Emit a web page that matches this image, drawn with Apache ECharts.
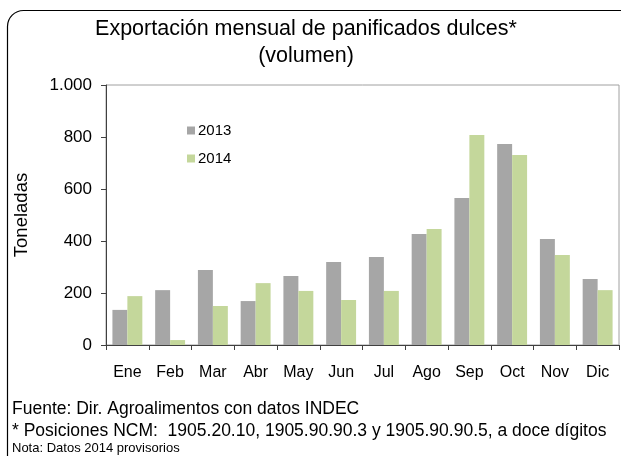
<!DOCTYPE html>
<html>
<head>
<meta charset="utf-8">
<script src="https://cdn.jsdelivr.net/npm/echarts@6/dist/echarts.min.js"></script>
<style>
  html, body { margin: 0; padding: 0; background: #fff; }
  #echarts { width: 621px; height: 456px; }
</style>
</head>
<body>
<div id="echarts"></div>
<script>
var meses = ['Ene', 'Feb', 'Mar', 'Abr', 'May', 'Jun', 'Jul', 'Ago', 'Sep', 'Oct', 'Nov', 'Dic'];
var datos2013 = [135, 211, 288, 169, 265, 319, 338, 427, 565, 773, 408, 254];
var datos2014 = [188, 19, 150, 238, 208, 173, 208, 446, 808, 731, 346, 211];
var notas = [
  'Fuente: Dir. Agroalimentos con datos INDEC',
  '* Posiciones NCM:  1905.20.10, 1905.90.90.3 y 1905.90.90.5, a doce dígitos',
  'Nota: Datos 2014 provisorios'
];

var myChart = echarts.init(document.getElementById('echarts'));
var fuente = 'Liberation Sans, Arial, sans-serif';

var option = {
  backgroundColor: '#fff',
  textStyle: { fontFamily: fuente },
  animation: false,
  title: {
    text: 'Exportación mensual de panificados dulces*\n(volumen)',
    left: 301,
    top: 11,
    textAlign: 'center',
    textStyle: { fontSize: 21.5, fontWeight: 'normal', color: '#000', lineHeight: 27, fontFamily: fuente }
  },
  legend: {
    orient: 'vertical',
    left: 182,
    top: 118,
    itemWidth: 8,
    itemHeight: 8,
    itemGap: 13,
    icon: 'rect',
    textStyle: { fontSize: 15, color: '#000', padding: [0, 0, 0, -2] },
    data: ['2013', '2014']
  },
  grid: {
    left: 106,
    right: 2,
    top: 85,
    bottom: 111,
    show: true,
    borderColor: '#a0a0a0',
    borderWidth: 1
  },
  xAxis: {
    type: 'category',
    data: meses,
    axisLine: { lineStyle: { color: '#404040', width: 1 } },
    axisTick: { show: true, length: 5, lineStyle: { color: '#404040' } },
    axisLabel: { fontSize: 16, color: '#000', margin: 20 }
  },
  yAxis: {
    type: 'value',
    name: 'Toneladas',
    nameLocation: 'middle',
    nameGap: 75,
    nameTextStyle: { fontSize: 18.5, color: '#000' },
    min: 0,
    max: 1000,
    interval: 200,
    axisLine: { show: true, lineStyle: { color: '#404040', width: 1 } },
    axisTick: { show: true, length: 5, lineStyle: { color: '#404040' } },
    splitLine: { show: false },
    axisLabel: {
      fontSize: 17,
      color: '#000',
      margin: 14,
      formatter: function (v) { return v >= 1000 ? (v / 1000) + '.' + String(v % 1000).padStart(3, '0') : String(v); }
    }
  },
  series: [
    {
      name: '2013',
      type: 'bar',
      data: datos2013,
      barGap: '0%',
      barCategoryGap: '30%',
      itemStyle: { color: '#a6a6a6' }
    },
    {
      name: '2014',
      type: 'bar',
      data: datos2014,
      itemStyle: { color: '#c4d79b' }
    }
  ],
  graphic: [
    {
      type: 'rect',
      shape: { x: 7.5, y: 10.5, width: 640, height: 470, r: 16 },
      style: { fill: 'none', stroke: '#000', lineWidth: 1.2 },
      silent: true
    },
    {
      type: 'text',
      left: 12,
      top: 400,
      style: { text: notas[0], fill: '#000', font: '17.5px ' + fuente }
    },
    {
      type: 'text',
      left: 12,
      top: 422,
      style: { text: notas[1], fill: '#000', font: '17.5px ' + fuente }
    },
    {
      type: 'text',
      left: 12,
      top: 442,
      style: { text: notas[2], fill: '#000', font: '13px ' + fuente }
    }
  ]
};

myChart.setOption(option);
</script>
</body>
</html>
